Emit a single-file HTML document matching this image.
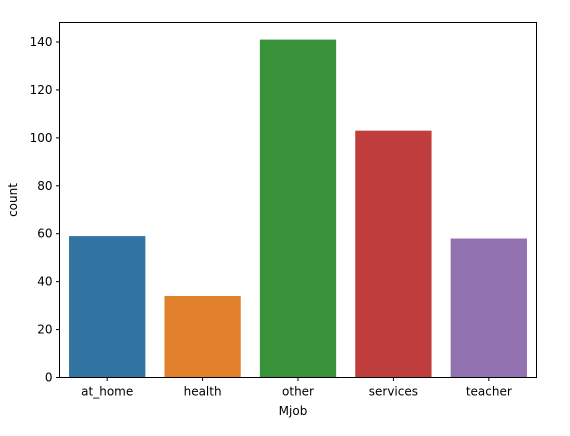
<!DOCTYPE html>
<html><head><meta charset="utf-8">
<style>
body{margin:0;background:#fff;font-family:"Liberation Sans","DejaVu Sans",sans-serif;}
svg text{font-family:"DejaVu Sans","Liberation Sans",sans-serif;font-size:12px;fill:#000;}
</style></head>
<body>
<svg id="chart" width="570" height="431" viewBox="0 0 570 431">
<g id="bars"></g>
<g id="yaxis"></g>
<g id="xaxis"></g>
<rect x="59.5" y="22.5" width="477" height="355" fill="none" stroke="#000" stroke-width="1"/>
<text x="293" y="415" text-anchor="middle">Mjob</text>
<text transform="translate(17,200) rotate(-90)" text-anchor="middle">count</text>
</svg>
<script>
const categories = ["at_home","health","other","services","teacher"];
const counts = [59,34,141,103,58];
const colors = ["#3274a1","#e1812c","#3a923a","#c03d3e","#9372b2"];
const yTicks = [0,20,40,60,80,100,120,140];

const L=59.5,R=536.5,T=22.5,B=377.5;
const yMax=(B-42)/((B-42)/140)*1; 
function y(v){return B-v*(B-42)/140;}
const band=(R-L)/categories.length;
function x(i){return L+band*i+band*0.1;}
const ns="http://www.w3.org/2000/svg";
const bars=document.getElementById('bars');
categories.forEach((c,i)=>{
  const r=document.createElementNS(ns,'rect');
  r.setAttribute('x',x(i));r.setAttribute('width',band*0.8);
  r.setAttribute('y',y(counts[i]));r.setAttribute('height',B-y(counts[i]));
  r.setAttribute('fill',colors[i]);
  
  
  bars.appendChild(r);
});
const ya=document.getElementById('yaxis');
yTicks.forEach(t=>{
  const l=document.createElementNS(ns,'line');
  l.setAttribute('x1',L-3.5);l.setAttribute('x2',L);l.setAttribute('y1',y(t));l.setAttribute('y2',y(t));
  l.setAttribute('stroke','#000');
  
  
  ya.appendChild(l);
  const tx=document.createElementNS(ns,'text');
  tx.setAttribute('x',L-7);tx.setAttribute('y',y(t)+4);tx.setAttribute('text-anchor','end');
  tx.textContent=t;
  
  
  ya.appendChild(tx);
});
const xa=document.getElementById('xaxis');
categories.forEach((c,i)=>{
  const cx=L+band*(i+0.5);
  const l=document.createElementNS(ns,'line');
  l.setAttribute('x1',cx);l.setAttribute('x2',cx);l.setAttribute('y1',B);l.setAttribute('y2',B+3.5);
  l.setAttribute('stroke','#000');
  
  
  xa.appendChild(l);
  const tx=document.createElementNS(ns,'text');
  tx.setAttribute('x',cx);tx.setAttribute('y',B+18);tx.setAttribute('text-anchor','middle');
  tx.textContent=c;
  
  
  xa.appendChild(tx);
});
</script>
</body></html>
